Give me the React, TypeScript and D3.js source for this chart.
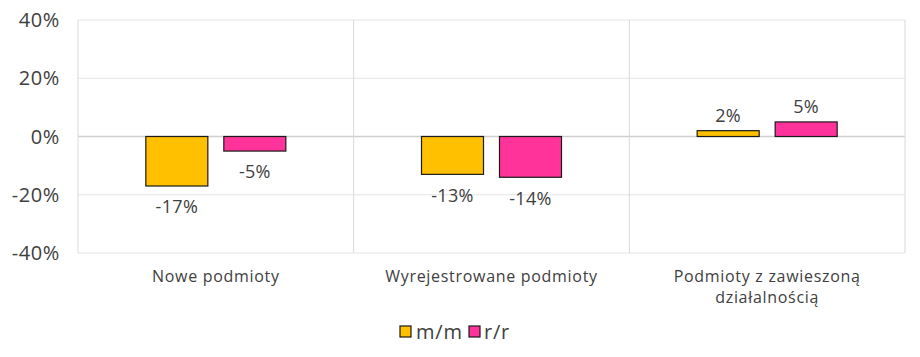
import React from 'react';
import * as d3 from 'd3';

const categories = ['Nowe podmioty', 'Wyrejestrowane podmioty', 'Podmioty z zawieszoną\ndziałalnością'];
const seriesNames = ['m/m', 'r/r'];
const mm = [-17, -13, 2];
const rr = [-5, -14, 5];
const yTicks = [-40, -20, 0, 20, 40];
const colors = ['#FFC000', '#FF3399'];

export default function App() {
  const width = 920;
  const height = 357;
  const margin = { top: 20, right: 15, bottom: 104, left: 78 };
  const font = 'Open Sans, sans-serif';
  const textColor = '#404040';

  const x = d3.scaleBand().domain(categories).range([margin.left, width - margin.right]);
  const y = d3.scaleLinear().domain([-40, 40]).range([height - margin.bottom, margin.top]);
  const mid = x.bandwidth() / 2;
  const inner = d3.scaleBand().domain(seriesNames).range([mid - 70, mid + 70]).paddingInner(0.205);

  const series = [mm, rr];

  return (
    <svg width={width} height={height} style={{ position: 'absolute', left: 0, top: 0 }}>
      <rect width={width} height={height} fill="#fff" />
      {yTicks.map(t => (
        <g key={t}>
          <line x1={margin.left} x2={width - margin.right} y1={y(t)} y2={y(t)} stroke={t === 0 ? '#d0d0d0' : '#e4e4e4'} strokeWidth={t === 0 ? 1.5 : 1} />
          <text x={60} y={y(t)} dy="0.35em" textAnchor="end" fontFamily={font} fontSize={20} letterSpacing={0.6} fill={textColor}>{t}%</text>
        </g>
      ))}
      {[...categories.map(c => x(c)!), width - margin.right].map((v, i) => (
        <line key={i} x1={v} x2={v} y1={margin.top} y2={height - margin.bottom} stroke="#d9d9d9" />
      ))}
      {categories.map((c, ci) => (
        <g key={c}>
          {series.map((s, si) => {
            const v = s[ci];
            const bx = x(c)! + inner(seriesNames[si])!;
            const by = y(Math.max(0, v));
            const bh = Math.abs(y(v) - y(0));
            return (
              <g key={si}>
                <rect x={bx} y={by} width={inner.bandwidth()} height={bh} fill={colors[si]} stroke="#1a1a1a" strokeWidth={1.2} />
                <text x={bx + inner.bandwidth() / 2} y={v < 0 ? y(v) + 21 : y(v) - 15} dy="0.35em" textAnchor="middle" fontFamily={font} fontSize={18} letterSpacing={0.3} fill={textColor}>{v}%</text>
              </g>
            );
          })}
          {c.split('\n').map((line, li) => (
            <text key={li} x={x(c)! + x.bandwidth() / 2} y={276 + li * 21} dy="0.35em" textAnchor="middle" fontFamily={font} fontSize={16} letterSpacing={0.7} fill={textColor}>{line}</text>
          ))}
        </g>
      ))}
      <g>
        <rect x={400} y={326} width={11} height={11} fill={colors[0]} stroke="#1a1a1a" strokeWidth={1.2} />
        <text x={416} y={332} dy="0.35em" fontFamily={font} fontSize={20} letterSpacing={0.8} fill={textColor}>{seriesNames[0]}</text>
        <rect x={469} y={326} width={11} height={11} fill={colors[1]} stroke="#1a1a1a" strokeWidth={1.2} />
        <text x={484} y={332} dy="0.35em" fontFamily={font} fontSize={20} letterSpacing={0.8} fill={textColor}>{seriesNames[1]}</text>
      </g>
    </svg>
  );
}
